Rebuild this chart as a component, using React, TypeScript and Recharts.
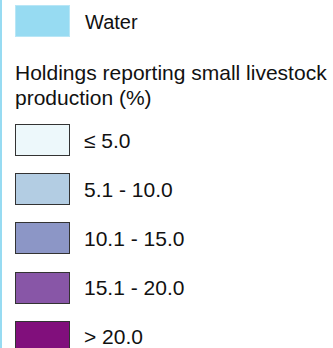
import { Bar, BarChart, Legend } from "recharts";

// legend-only figure: water + 5 classes (BuPu)
const waterLabel = "Water";
const waterColor = "#97dbf2";
const titleLines = ["Holdings reporting small livestock", "production (%)"];
const classLabels = ["≤ 5.0", "5.1 - 10.0", "10.1 - 15.0", "15.1 - 20.0", "> 20.0"];
const classColors = ["#edf8fb", "#b3cde3", "#8c96c6", "#8856a7", "#810f7c"];

const seriesKeys = ["water", ...classLabels.map((_, i) => `c${i}`)];
const seriesNames = [waterLabel, ...classLabels];
const seriesColors = [waterColor, ...classColors];

const FONT = '"Liberation Sans", Arial, sans-serif';

type Entry = { value: string; color?: string };

function LegendBox({ payload }: { payload?: Entry[] }) {
  // recharts sorts the payload, put it back in series order
  const items: Entry[] = seriesNames.map((n, i) => {
    const hit = payload?.find((p) => p.value === n);
    return { value: n, color: hit?.color ?? seriesColors[i] };
  });
  const [water, ...classes] = items;
  return (
    <div style={{ position: "relative", width: 333, height: 348, fontFamily: FONT, color: "#111" }}>
      <div style={{ position: "absolute", left: 0, top: 0, width: 1.5, height: 348, background: waterColor }} />
      <div style={{ position: "absolute", left: 15, top: 5, display: "flex", alignItems: "center" }}>
        <div
          style={{
            width: 55,
            height: 32,
            boxSizing: "border-box",
            background: water.color,
            border: "1px solid #b8e6f6",
          }}
        />
        <span style={{ marginLeft: 15, fontSize: 20, lineHeight: "22px", marginTop: 1 }}>{water.value}</span>
      </div>
      <div style={{ position: "absolute", left: 15, top: 60, fontSize: 21, lineHeight: "25px", whiteSpace: "nowrap" }}>
        {titleLines.map((t) => (
          <div key={t}>{t}</div>
        ))}
      </div>
      {classes.map((e, i) => (
        <div
          key={e.value}
          style={{ position: "absolute", left: 15, top: 124 + i * 49.2, display: "flex", alignItems: "center" }}
        >
          <div
            style={{
              width: 55,
              height: 32,
              boxSizing: "border-box",
              background: e.color,
              border: "1.5px solid #333",
            }}
          />
          <span style={{ marginLeft: 14, fontSize: 21, lineHeight: "24px", marginTop: 1 }}>{e.value}</span>
        </div>
      ))}
    </div>
  );
}

const data = [Object.fromEntries(seriesKeys.map((k) => [k, 0]))];

export default function App() {
  return (
    <div style={{ position: "absolute", left: 0, top: 0, width: 333, height: 348, background: "#fff" }}>
      <BarChart width={333} height={348} data={data} margin={{ top: 0, right: 0, bottom: 0, left: 0 }}>
        {seriesKeys.map((k, i) => (
          <Bar
            key={k}
            dataKey={k}
            name={seriesNames[i]}
            fill={seriesColors[i]}
            legendType="rect"
            isAnimationActive={false}
          />
        ))}
        <Legend
          layout="vertical"
          align="left"
          verticalAlign="top"
          wrapperStyle={{ left: 0, top: 0, width: 333, height: 348 }}
          content={(props: any) => <LegendBox payload={props.payload} />}
        />
      </BarChart>
    </div>
  );
}
